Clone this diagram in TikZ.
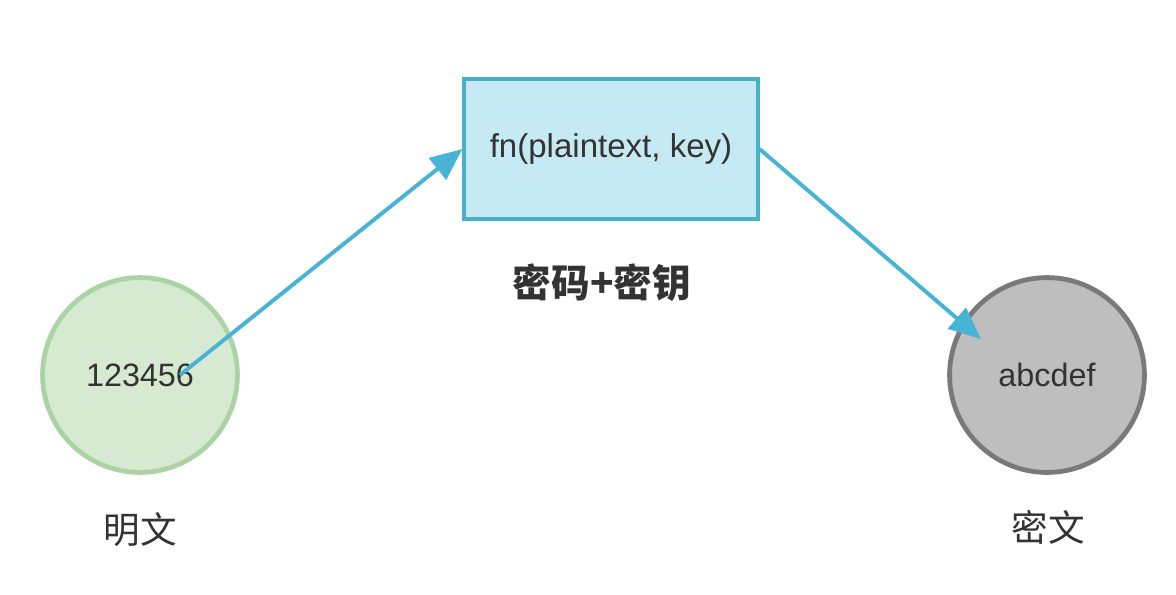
\documentclass[tikz,border=0pt]{standalone}
\usepackage{fontspec}
\setmainfont{Liberation Sans}
\newfontfamily\cjk{Noto Sans CJK SC}
\usetikzlibrary{arrows.meta}
\usetikzlibrary{calc}

\definecolor{plainfill}{HTML}{D6EAD2}
\definecolor{plainline}{HTML}{ABD3A3}
\definecolor{fnfill}{HTML}{C6EAF4}
\definecolor{fnline}{HTML}{4AAFCB}
\definecolor{flowline}{HTML}{48B4D5}
\definecolor{cipherfill}{HTML}{BEBEBE}
\definecolor{cipherline}{HTML}{797979}
\definecolor{txt}{HTML}{333333}

\tikzset{
	datanode/.style={circle, minimum size=4.87cm, line width=3.4pt, text=txt, font=\fontsize{23}{26}\selectfont},
	fnbox/.style={rectangle, minimum width=7.33cm, minimum height=3.48cm, line width=2.8pt, fill=fnfill, draw=fnline, text=txt, font=\fontsize{23.5}{26}\selectfont},
	caption/.style={text=txt, font=\cjk\fontsize{26}{30}\selectfont},
	flow/.style={draw=flowline, line width=2.8pt, -{Triangle[length=0.8cm, width=0.68cm]}}
}

\begin{document}
\begin{tikzpicture}[x=0.025cm, y=-0.025cm]
	\useasboundingbox (0,0) rectangle (1176,594);

	% draw data nodes and the function box
	\node[datanode, fill=plainfill, draw=plainline] (plain) at (140,375) {123456};
	\node[fnbox] (fn) at (611,149) {fn(plaintext, key)};
	\node[datanode, fill=cipherfill, draw=cipherline] (cipher) at (1047,375) {abcdef};

	% captions under each node
	\node[caption] (plaincap) at (140,530) {明文};
	\node[caption, font=\cjk\bfseries\fontsize{27.5}{30}\selectfont] (fncap) at (602,283) {密码+密钥};
	\node[caption] (ciphercap) at (1048,527) {密文};

	% free ends of the connectors sit inside the circles
	\coordinate (tail) at ($(plain.center)+(40,0)$);
	\coordinate (head) at ($(cipher.center)+(-66,-36)$);

	% encryption flow
	\draw[flow] (tail) -- (fn.west);
	\draw[flow] (fn.east) -- (head);
\end{tikzpicture}
\end{document}
